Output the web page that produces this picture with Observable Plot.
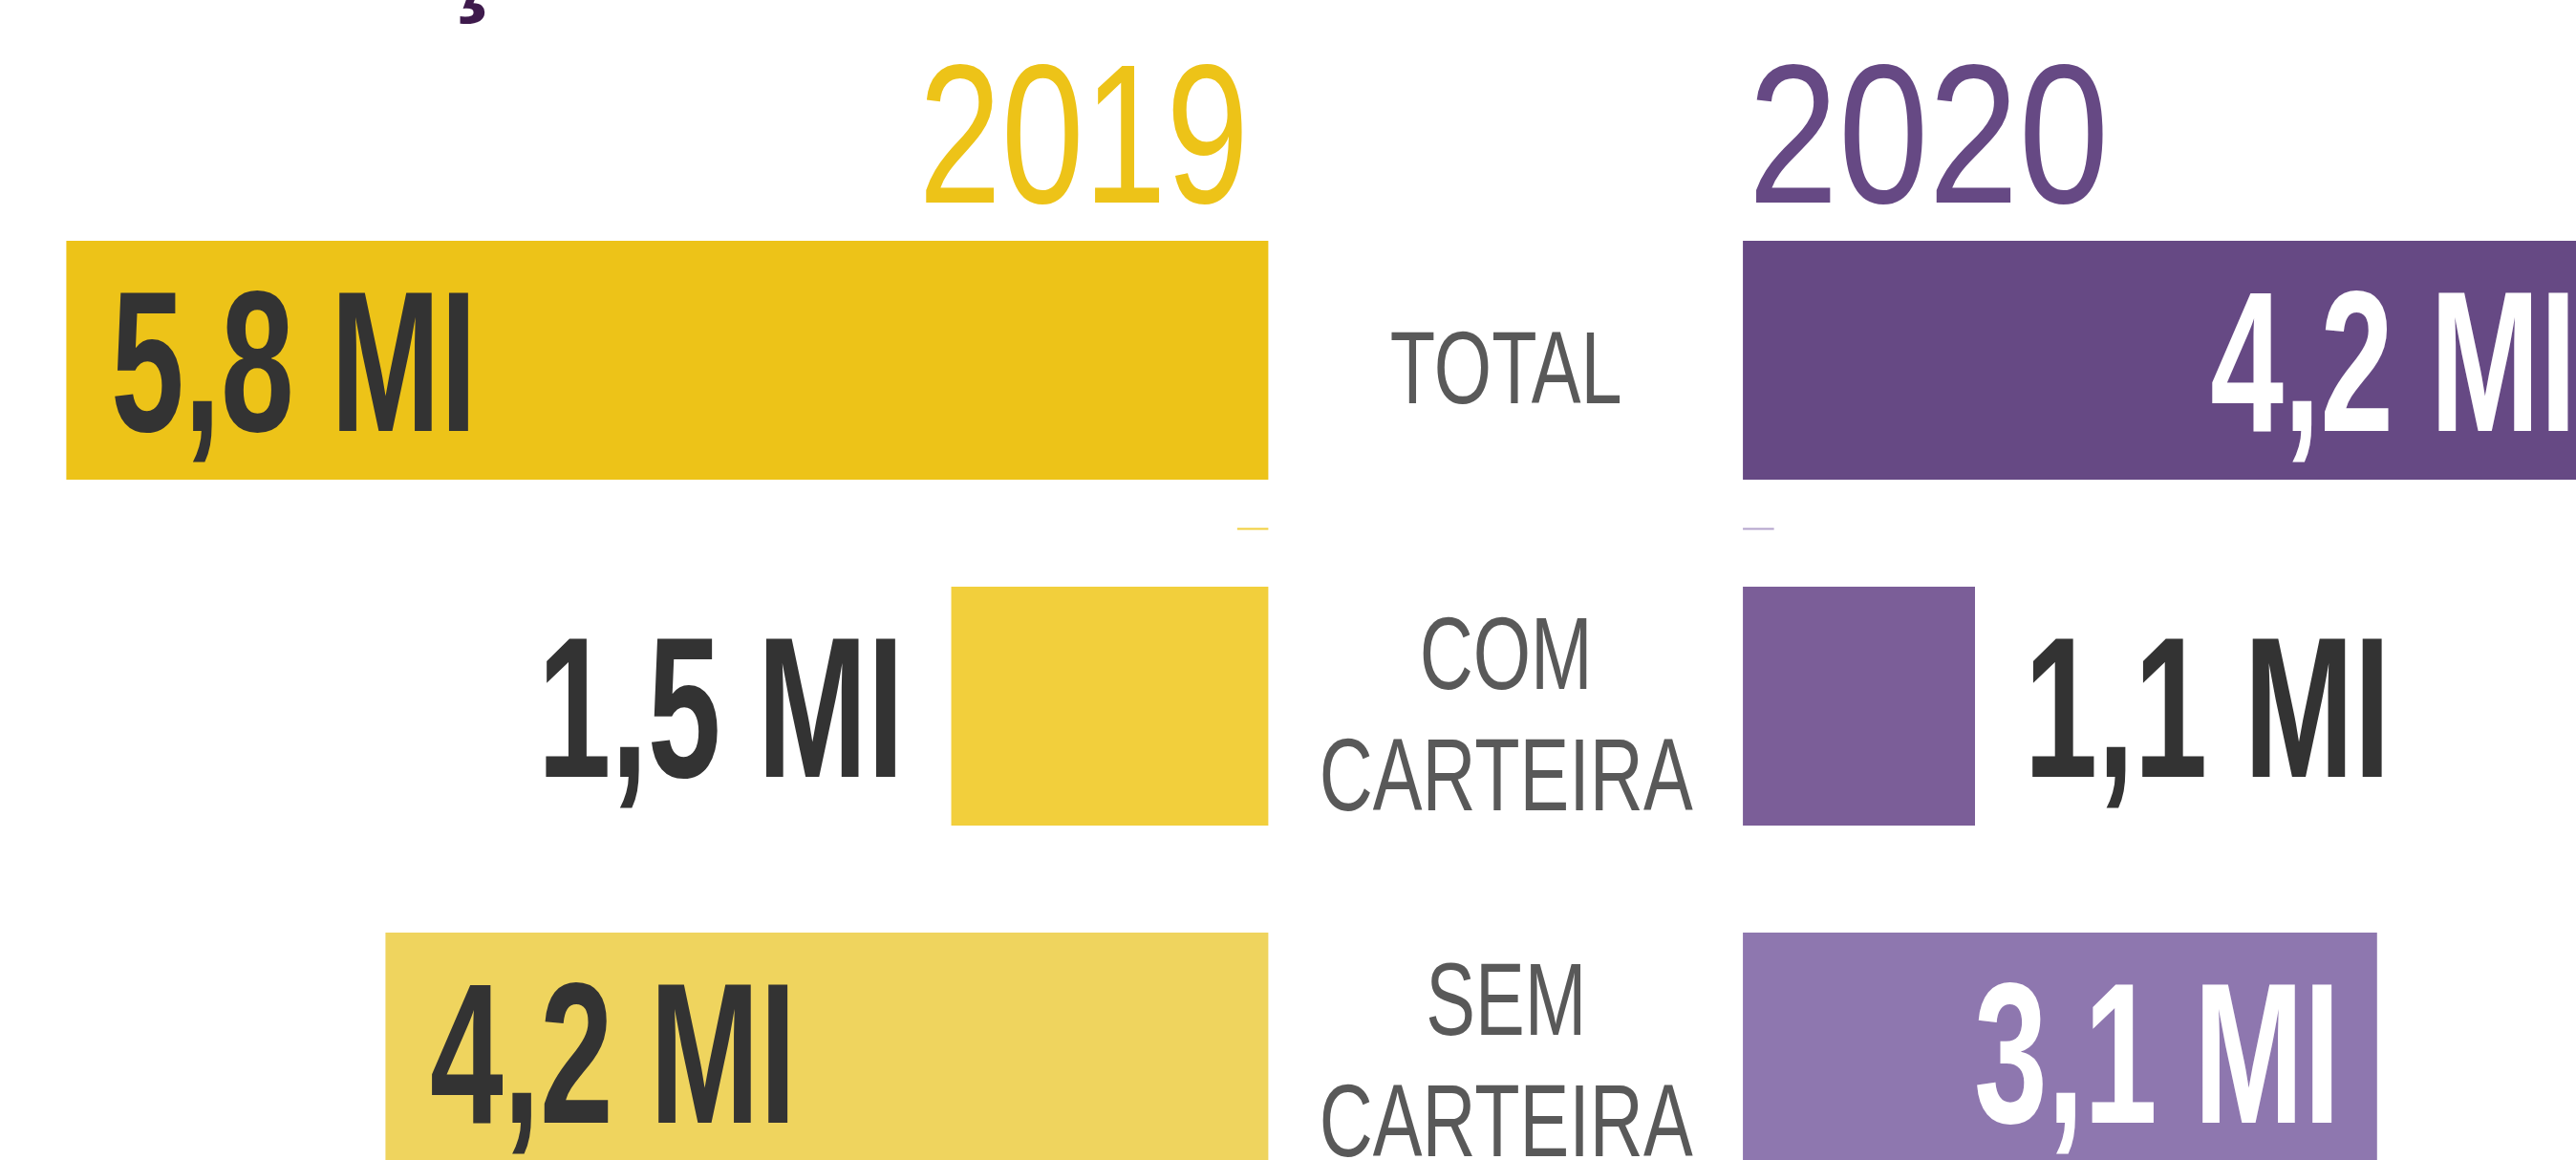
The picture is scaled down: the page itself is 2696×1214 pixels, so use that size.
<!DOCTYPE html>
<html>
<head>
<meta charset="utf-8">
<script src="https://cdn.jsdelivr.net/npm/d3@7"></script>
<script src="https://cdn.jsdelivr.net/npm/@observablehq/plot@0.6"></script>
<style>
html, body { margin: 0; padding: 0; background: #fff; }
#wrap { position: relative; width: 2696px; height: 1214px; overflow: hidden; background: #fff; }
#chart { position: absolute; left: 0; top: 0; }
#title { position: absolute; left: 457px; top: -112px; font: bold 130px 'Liberation Sans', sans-serif; line-height: 1; color: #3E1A4C; margin: 0; white-space: nowrap; }
</style>
</head>
<body>
<div id="wrap"><div id="chart"></div><div id="title">ç</div></div>
<script>
// ---- data ----
const categories = ["TOTAL", "COM CARTEIRA", "SEM CARTEIRA"];
const categoryLabels = ["TOTAL", "COM\nCARTEIRA", "SEM\nCARTEIRA"];
const years = ["2019", "2020"];
const values2019 = [5.8, 1.53, 4.26];
const values2020 = [4.2, 1.12, 3.06];
const valueLabels2019 = ["5,8 MI", "1,5 MI", "4,2 MI"];
const valueLabels2020 = ["4,2 MI", "1,1 MI", "3,1 MI"];

// ---- layout & style (value units / colours) ----
const GAP = 2.29;              // gap between the 2019 and 2020 columns
const X_DOMAIN = [-6.12, 6.31];
const SEP = 0.15;
const colors2019 = ["#EDC318", "#F2CF3C", "#EFD45E"];
const colors2020 = ["#664984", "#7B5E98", "#8E77AF"];
const yearColors = ["#EDC318", "#664984"];
const FONT = "'Liberation Sans', Arial, sans-serif";

const rows = categories.flatMap((cat, i) => [
  {year: years[0], cat, value: values2019[i], text: valueLabels2019[i],
   x1: -values2019[i], x2: 0, fill: colors2019[i], inside: values2019[i] > 2},
  {year: years[1], cat, value: values2020[i], text: valueLabels2020[i],
   x1: GAP, x2: GAP + values2020[i], fill: colors2020[i], inside: values2020[i] > 2}
]);
const labelRows = categories.map((cat, i) => ({cat, label: categoryLabels[i]}));
const r19 = rows.filter(d => d.year === years[0]);
const r20 = rows.filter(d => d.year === years[1]);

const chart = Plot.plot({
  width: 2696,
  height: 1214,
  margin: 0,
  style: {background: "white"},
  x: {domain: X_DOMAIN, range: [0, 2696], axis: null},
  y: {type: "band", domain: categories, range: [252, 1226], paddingInner: 0.3094, paddingOuter: 0, round: false, axis: null},
  color: {type: "identity"},
  marks: [
    Plot.barX(rows, {x1: "x1", x2: "x2", y: "cat", fill: "fill"}),
    Plot.ruleY([categories[1]], {y: d => d, x1: () => -SEP, x2: () => 0, stroke: colors2019[1], strokeWidth: 2, dy: -186}),
    Plot.ruleY([categories[1]], {y: d => d, x1: () => GAP, x2: () => GAP + SEP, stroke: "#B3A3CC", strokeWidth: 2, dy: -186}),
    // years
    Plot.text([years[0]], {x: () => 0, frameAnchor: "top", text: d => d, textAnchor: "end", lineAnchor: "bottom",
      dx: -21, dy: 211, fill: yearColors[0], fontSize: 207, fontFamily: FONT}),
    Plot.text([years[1]], {x: () => GAP, frameAnchor: "top", text: d => d, textAnchor: "start", lineAnchor: "bottom",
      dx: 5, dy: 211, fill: yearColors[1], fontSize: 207, fontFamily: FONT}),
    // category labels
    Plot.text(labelRows, {x: () => GAP / 2, y: "cat", text: "label", textAnchor: "middle", lineAnchor: "middle",
      lineHeight: 1.19, dy: 4, fill: "#595959", fontSize: 107, fontFamily: FONT}),
    // value labels 2019
    Plot.text(r19.filter(d => d.inside), {x: "x1", y: "cat", text: "text", textAnchor: "start", dx: 46, dy: 7,
      fill: "#333333", fontSize: 209, fontWeight: "bold", fontFamily: FONT}),
    Plot.text(r19.filter(d => !d.inside), {x: "x1", y: "cat", text: "text", textAnchor: "end", dx: -50, dy: 7,
      fill: "#333333", fontSize: 209, fontWeight: "bold", fontFamily: FONT}),
    // value labels 2020
    Plot.text(r20.filter(d => d.inside), {x: "x2", y: "cat", text: "text", textAnchor: "end", dx: -39, dy: 7,
      fill: "#FFFFFF", fontSize: 209, fontWeight: "bold", fontFamily: FONT}),
    Plot.text(r20.filter(d => !d.inside), {x: "x2", y: "cat", text: "text", textAnchor: "start", dx: 51, dy: 7,
      fill: "#333333", fontSize: 209, fontWeight: "bold", fontFamily: FONT})
  ]
});
document.getElementById("chart").appendChild(chart);

// condense the glyphs horizontally (narrow typefaces of the original)
const squeeze = [0.75, 0.82, 0.725, 0.66, 0.66, 0.66, 0.66];
chart.querySelectorAll('g[aria-label="text"]').forEach((g, i) => {
  const s = squeeze[i] ?? 1;
  g.querySelectorAll("text").forEach(t => {
    const tr = t.getAttribute("transform");
    if (tr) t.setAttribute("transform", `${tr} scale(${s},1)`);
    else {
      const x = +t.getAttribute("x") || 0;
      t.removeAttribute("x");
      t.setAttribute("transform", `translate(${x},0) scale(${s},1)`);
    }
  });
});
</script>
</body>
</html>
